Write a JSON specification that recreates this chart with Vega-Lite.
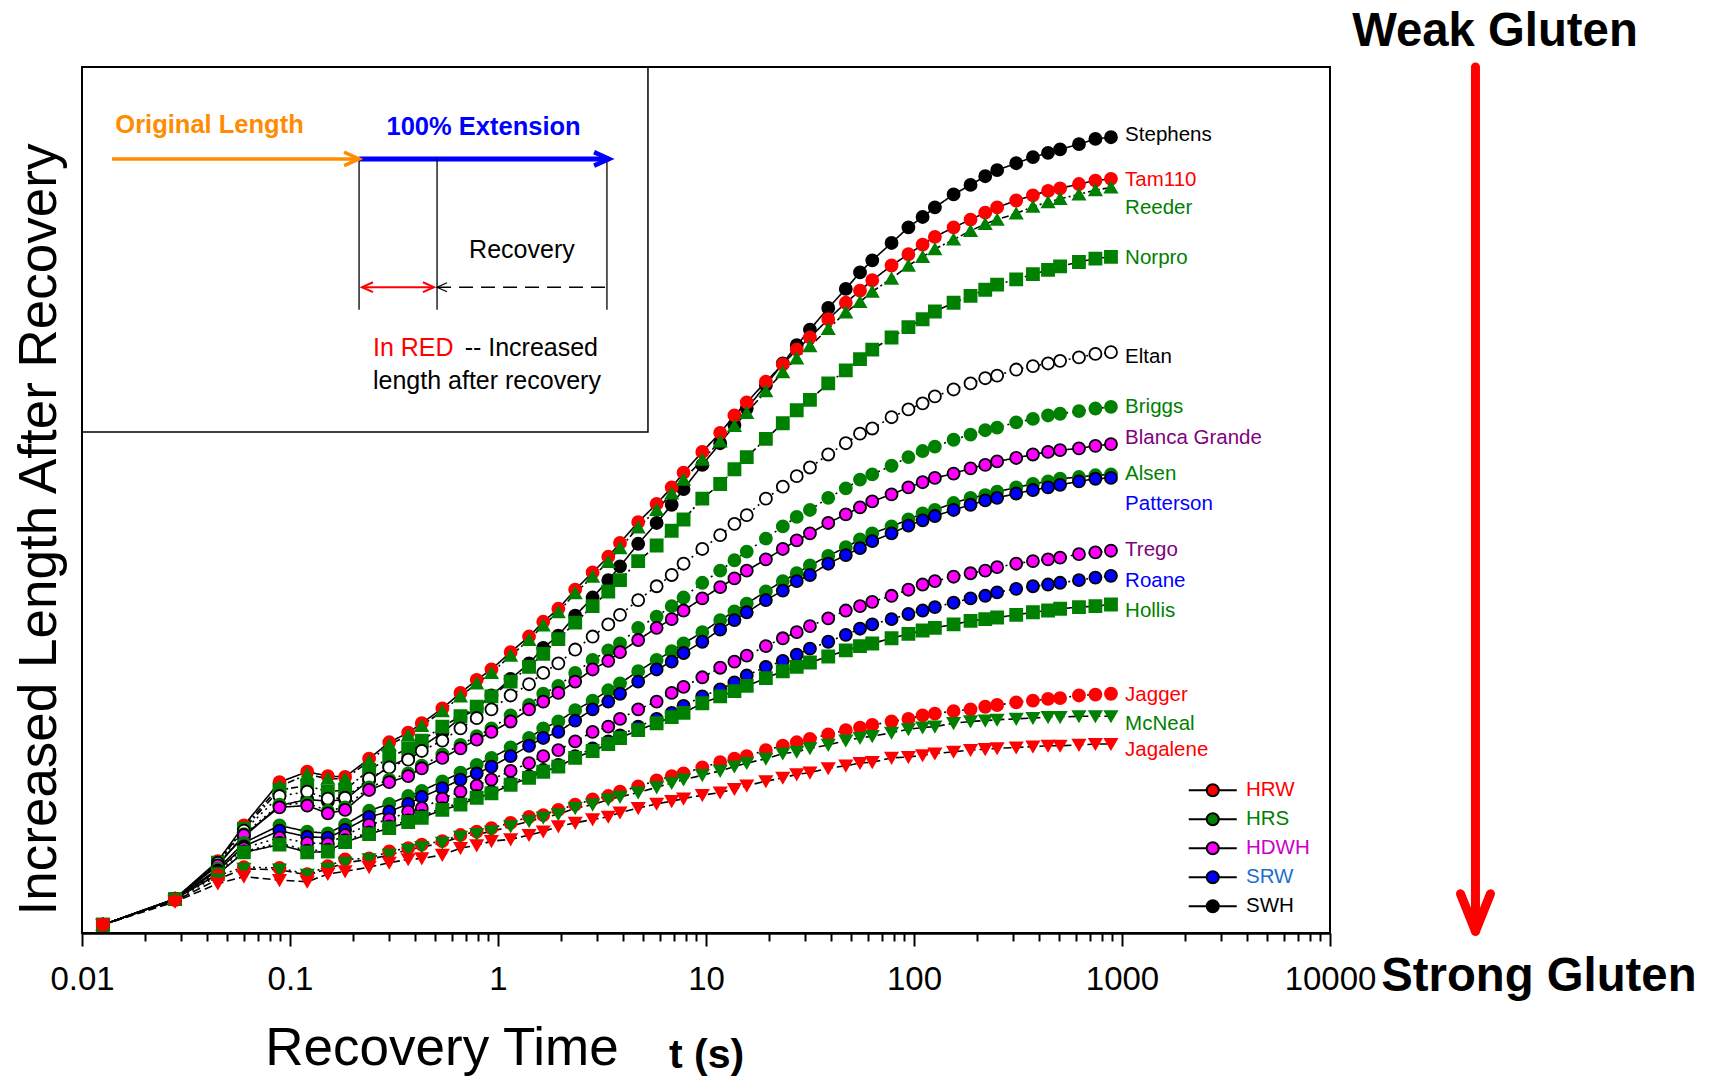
{
  "$schema": "https://vega.github.io/schema/vega-lite/v6.json",
  "width": 1248,
  "height": 866,
  "autosize": {"type": "none"},
  "padding": {"left": 82, "top": 67, "right": 390, "bottom": 144},
  "background": "white",
  "config": {
    "font": "Liberation Sans",
    "view": {"stroke": "black", "strokeWidth": 2}
  },
  "datasets": {
    "series": [
      {"c": "Stephens", "cls": "SWH", "t": [0.0126,0.028,0.045,0.06,0.089,0.121,0.152,0.184,0.24,0.3,0.37,0.43,0.54,0.66,0.79,0.93,1.15,1.41,1.65,1.95,2.35,2.85,3.39,3.86,4.72,5.79,6.84,7.8,9.6,11.7,13.7,15.7,19.4,23.4,27.3,31.6,38.7,47,55,63,78,94,110,126,155,187,220,251,310,373,441,504,621,745,885],
       "v": [1.15,4.15,8.2,11.3,14.9,15.6,15.4,15.6,17.8,19.4,20.4,21.7,23.3,25.0,26.1,27.6,29.5,31.3,33.1,34.5,36.8,38.9,40.9,42.5,45.1,47.5,49.6,51.4,54.2,56.7,58.8,60.7,63.4,65.9,68.0,69.8,72.3,74.5,76.4,77.8,79.8,81.6,82.8,83.9,85.4,86.5,87.5,88.2,89.0,89.7,90.2,90.6,91.2,91.8,92.0]},
      {"c": "Tam110", "cls": "HRW", "t": [0.0126,0.028,0.045,0.06,0.089,0.121,0.152,0.184,0.24,0.3,0.37,0.43,0.54,0.66,0.79,0.93,1.15,1.41,1.65,1.95,2.35,2.85,3.39,3.86,4.72,5.79,6.84,7.8,9.6,11.7,13.7,15.7,19.4,23.4,27.3,31.6,38.7,47,55,63,78,94,110,126,155,187,220,251,310,373,441,504,621,745,885],
       "v": [1.15,4.15,8.5,12.6,17.6,18.8,18.3,18.2,20.3,22.2,23.3,24.4,26.1,27.9,29.4,30.6,32.6,34.4,36.1,37.6,39.8,41.8,43.6,45.2,47.6,49.7,51.6,53.3,55.7,57.9,59.9,61.4,63.8,65.8,67.5,68.9,71.0,72.9,74.3,75.5,77.2,78.5,79.6,80.5,81.6,82.5,83.3,83.9,84.7,85.3,85.8,86.1,86.6,87.0,87.2]},
      {"c": "Reeder", "cls": "HRS", "t": [0.0126,0.028,0.045,0.06,0.089,0.121,0.152,0.184,0.24,0.3,0.37,0.43,0.54,0.66,0.79,0.93,1.15,1.41,1.65,1.95,2.35,2.85,3.39,3.86,4.72,5.79,6.84,7.8,9.6,11.7,13.7,15.7,19.4,23.4,27.3,31.6,38.7,47,55,63,78,94,110,126,155,187,220,251,310,373,441,504,621,745,885],
       "v": [1.15,4.1,8.4,12.4,17.1,18.5,18.0,18.0,20.0,21.9,23.0,24.1,25.8,27.5,29.0,30.2,32.2,34.0,35.7,37.2,39.4,41.3,43.0,44.6,47.0,49.0,50.9,52.5,54.8,56.9,58.7,60.2,62.7,64.9,66.5,67.9,69.9,71.8,73.0,74.2,75.7,77.2,78.2,79.1,80.2,81.2,82.0,82.5,83.2,84.0,84.5,84.9,85.4,85.9,86.2]},
      {"c": "Norpro", "cls": "HRS", "t": [0.0126,0.028,0.045,0.06,0.089,0.121,0.152,0.184,0.24,0.3,0.37,0.43,0.54,0.66,0.79,0.93,1.15,1.41,1.65,1.95,2.35,2.85,3.39,3.86,4.72,5.79,6.84,7.8,9.6,11.7,13.7,15.7,19.4,23.4,27.3,31.6,38.7,47,55,63,78,94,110,126,155,187,220,251,310,373,441,504,621,745,885],
       "v": [1.15,4.1,8.3,12.2,16.7,17.2,16.5,16.7,19.0,20.4,21.5,22.4,24.0,25.2,26.3,27.5,29.2,30.9,32.4,34.1,36.0,37.9,39.6,40.9,43.1,44.9,46.6,47.9,50.3,52.0,53.7,55.1,57.2,59.0,60.5,61.7,63.6,65.1,66.4,67.5,68.9,70.1,71.0,71.9,72.9,73.7,74.4,75.0,75.6,76.2,76.7,77.1,77.6,78.0,78.2]},
      {"c": "Eltan", "cls": "SWH", "t": [0.0126,0.028,0.045,0.06,0.089,0.121,0.152,0.184,0.24,0.3,0.37,0.43,0.54,0.66,0.79,0.93,1.15,1.41,1.65,1.95,2.35,2.85,3.39,3.86,4.72,5.79,6.84,7.8,9.6,11.7,13.7,15.7,19.4,23.4,27.3,31.6,38.7,47,55,63,78,94,110,126,155,187,220,251,310,373,441,504,621,745,885],
       "v": [1.15,4.15,8.3,12.0,16.0,16.5,15.7,15.8,18.0,19.3,20.2,21.2,22.4,23.8,25.0,26.0,27.6,28.9,30.2,31.3,32.9,34.4,35.8,36.9,38.6,40.2,41.5,42.8,44.5,46.1,47.4,48.4,50.3,51.7,52.9,53.9,55.4,56.7,57.8,58.4,59.7,60.6,61.3,62.1,62.9,63.6,64.2,64.5,65.2,65.6,65.9,66.2,66.6,67.0,67.2]},
      {"c": "Briggs", "cls": "HRS", "t": [0.0126,0.028,0.045,0.06,0.089,0.121,0.152,0.184,0.24,0.3,0.37,0.43,0.54,0.66,0.79,0.93,1.15,1.41,1.65,1.95,2.35,2.85,3.39,3.86,4.72,5.79,6.84,7.8,9.6,11.7,13.7,15.7,19.4,23.4,27.3,31.6,38.7,47,55,63,78,94,110,126,155,187,220,251,310,373,441,504,621,745,885],
       "v": [1.15,4.1,8.0,11.6,15.0,15.2,14.3,14.7,17.0,17.9,18.6,19.5,20.8,21.9,22.9,23.8,25.3,26.5,27.8,28.7,30.2,31.7,32.8,33.6,35.4,36.7,37.9,38.9,40.6,42.0,43.2,44.2,45.7,47.1,48.2,49.0,50.4,51.5,52.5,53.1,54.1,55.1,55.8,56.3,57.1,57.7,58.2,58.5,59.1,59.5,59.9,60.1,60.4,60.7,60.9]},
      {"c": "Blanca Grande", "cls": "HDWH", "t": [0.0126,0.028,0.045,0.06,0.089,0.121,0.152,0.184,0.24,0.3,0.37,0.43,0.54,0.66,0.79,0.93,1.15,1.41,1.65,1.95,2.35,2.85,3.39,3.86,4.72,5.79,6.84,7.8,9.6,11.7,13.7,15.7,19.4,23.4,27.3,31.6,38.7,47,55,63,78,94,110,126,155,187,220,251,310,373,441,504,621,745,885],
       "v": [1.15,4.1,8.0,11.5,14.7,14.9,14.0,14.4,16.7,17.6,18.3,19.2,20.4,21.5,22.5,23.4,24.6,26.0,26.9,27.9,29.2,30.6,31.6,32.6,34.0,35.4,36.4,37.4,38.8,40.1,41.1,42.0,43.3,44.5,45.5,46.3,47.5,48.5,49.3,50.0,50.8,51.6,52.2,52.7,53.2,53.8,54.2,54.6,55.0,55.4,55.7,55.9,56.1,56.4,56.6]},
      {"c": "Alsen", "cls": "HRS", "t": [0.0126,0.028,0.045,0.06,0.089,0.121,0.152,0.184,0.24,0.3,0.37,0.43,0.54,0.66,0.79,0.93,1.15,1.41,1.65,1.95,2.35,2.85,3.39,3.86,4.72,5.79,6.84,7.8,9.6,11.7,13.7,15.7,19.4,23.4,27.3,31.6,38.7,47,55,63,78,94,110,126,155,187,220,251,310,373,441,504,621,745,885],
       "v": [1.15,4.1,7.6,10.6,12.6,11.9,11.7,12.7,14.3,15.1,16.0,16.6,17.7,18.7,19.6,20.4,21.6,22.7,23.8,24.6,25.9,27.0,28.2,29.0,30.4,31.7,32.7,33.6,34.9,36.3,37.3,38.2,39.6,40.8,41.7,42.6,43.7,44.7,45.6,46.3,47.1,47.9,48.6,49.0,49.8,50.4,50.7,51.1,51.6,52.0,52.3,52.6,52.8,53.0,53.1]},
      {"c": "Patterson", "cls": "SRW", "t": [0.0126,0.028,0.045,0.06,0.089,0.121,0.152,0.184,0.24,0.3,0.37,0.43,0.54,0.66,0.79,0.93,1.15,1.41,1.65,1.95,2.35,2.85,3.39,3.86,4.72,5.79,6.84,7.8,9.6,11.7,13.7,15.7,19.4,23.4,27.3,31.6,38.7,47,55,63,78,94,110,126,155,187,220,251,310,373,441,504,621,745,885],
       "v": [1.15,4.1,7.4,10.2,12.0,11.3,11.2,12.1,13.6,14.2,15.1,15.9,16.9,17.9,18.6,19.4,20.6,21.8,22.7,23.4,24.7,26.0,26.9,27.8,29.2,30.6,31.5,32.5,33.8,35.2,36.3,37.2,38.6,39.7,40.8,41.5,42.8,43.8,44.6,45.4,46.3,47.2,47.8,48.3,49.0,49.6,50.1,50.4,50.9,51.3,51.6,51.9,52.3,52.6,52.7]},
      {"c": "Trego", "cls": "HDWH", "t": [0.0126,0.028,0.045,0.06,0.089,0.121,0.152,0.184,0.24,0.3,0.37,0.43,0.54,0.66,0.79,0.93,1.15,1.41,1.65,1.95,2.35,2.85,3.39,3.86,4.72,5.79,6.84,7.8,9.6,11.7,13.7,15.7,19.4,23.4,27.3,31.6,38.7,47,55,63,78,94,110,126,155,187,220,251,310,373,441,504,621,745,885],
       "v": [1.15,4.1,7.3,10.0,11.2,10.6,10.5,11.5,12.7,13.3,14.2,14.6,15.7,16.5,17.2,17.9,18.9,19.8,20.6,21.3,22.3,23.4,24.0,24.9,26.0,26.9,27.9,28.6,29.7,30.8,31.5,32.2,33.3,34.2,34.9,35.6,36.5,37.4,37.9,38.4,39.1,39.8,40.4,40.8,41.3,41.7,42.0,42.4,42.8,43.1,43.3,43.5,43.9,44.1,44.3]},
      {"c": "Roane", "cls": "SRW", "t": [0.0126,0.028,0.045,0.06,0.089,0.121,0.152,0.184,0.24,0.3,0.37,0.43,0.54,0.66,0.79,0.93,1.15,1.41,1.65,1.95,2.35,2.85,3.39,3.86,4.72,5.79,6.84,7.8,9.6,11.7,13.7,15.7,19.4,23.4,27.3,31.6,38.7,47,55,63,78,94,110,126,155,187,220,251,310,373,441,504,621,745,885],
       "v": [1.15,4.1,7.1,9.6,10.6,9.7,9.8,10.9,11.8,12.5,13.2,13.7,14.6,15.2,16.0,16.5,17.5,18.3,19.0,19.6,20.6,21.5,22.3,23.0,24.0,24.9,25.6,26.4,27.5,28.3,29.1,29.9,30.9,31.6,32.3,33.0,33.8,34.6,35.3,35.8,36.4,37.0,37.4,37.8,38.3,38.8,39.1,39.5,39.9,40.2,40.4,40.6,40.9,41.2,41.4]},
      {"c": "Hollis", "cls": "HRS", "t": [0.0126,0.028,0.045,0.06,0.089,0.121,0.152,0.184,0.24,0.3,0.37,0.43,0.54,0.66,0.79,0.93,1.15,1.41,1.65,1.95,2.35,2.85,3.39,3.86,4.72,5.79,6.84,7.8,9.6,11.7,13.7,15.7,19.4,23.4,27.3,31.6,38.7,47,55,63,78,94,110,126,155,187,220,251,310,373,441,504,621,745,885],
       "v": [1.15,4.1,7.0,9.5,10.4,9.5,9.6,10.7,11.6,12.3,13.0,13.5,14.4,15.0,15.8,16.3,17.3,18.1,18.8,19.4,20.4,21.2,22.0,22.7,23.6,24.4,25.1,25.6,26.7,27.5,28.1,28.7,29.6,30.4,30.9,31.4,32.1,32.8,33.3,33.6,34.2,34.7,35.1,35.4,35.8,36.2,36.4,36.6,36.9,37.2,37.4,37.6,37.8,37.9,38.1]},
      {"c": "Jagger", "cls": "HRW", "t": [0.0126,0.028,0.045,0.06,0.089,0.121,0.152,0.184,0.24,0.3,0.37,0.43,0.54,0.66,0.79,0.93,1.15,1.41,1.65,1.95,2.35,2.85,3.39,3.86,4.72,5.79,6.84,7.8,9.6,11.7,13.7,15.7,19.4,23.4,27.3,31.6,38.7,47,55,63,78,94,110,126,155,187,220,251,310,373,441,504,621,745,885],
       "v": [1.15,4.0,6.8,7.8,7.7,7.0,7.9,8.7,8.8,9.6,10.0,10.4,10.8,11.5,11.9,12.3,12.9,13.6,13.8,14.4,15.0,15.6,16.0,16.5,17.1,17.8,18.3,18.6,19.3,19.9,20.3,20.6,21.3,21.8,22.2,22.6,23.1,23.6,23.9,24.2,24.6,24.9,25.3,25.5,25.8,26.0,26.3,26.5,26.8,27.0,27.2,27.3,27.6,27.7,27.8]},
      {"c": "McNeal", "cls": "HRS", "t": [0.0126,0.028,0.045,0.06,0.089,0.121,0.152,0.184,0.24,0.3,0.37,0.43,0.54,0.66,0.79,0.93,1.15,1.41,1.65,1.95,2.35,2.85,3.39,3.86,4.72,5.79,6.84,7.8,9.6,11.7,13.7,15.7,19.4,23.4,27.3,31.6,38.7,47,55,63,78,94,110,126,155,187,220,251,310,373,441,504,621,745,885],
       "v": [1.15,3.9,6.4,7.6,7.5,6.9,7.6,8.3,8.7,9.2,9.8,10.1,10.6,11.3,11.6,11.9,12.5,13.1,13.5,13.9,14.6,15.0,15.6,15.9,16.4,17.0,17.5,17.9,18.4,18.9,19.4,19.8,20.3,20.9,21.1,21.5,21.9,22.4,22.7,22.9,23.3,23.7,23.9,24.0,24.4,24.6,24.7,24.8,24.9,25.0,25.1,25.1,25.2,25.2,25.2]},
      {"c": "Jagalene", "cls": "HRW", "t": [0.0126,0.028,0.045,0.06,0.089,0.121,0.152,0.184,0.24,0.3,0.37,0.43,0.54,0.66,0.79,0.93,1.15,1.41,1.65,1.95,2.35,2.85,3.39,3.86,4.72,5.79,6.84,7.8,9.6,11.7,13.7,15.7,19.4,23.4,27.3,31.6,38.7,47,55,63,78,94,110,126,155,187,220,251,310,373,441,504,621,745,885],
       "v": [1.15,3.8,5.9,6.7,6.3,6.1,7.0,7.3,7.8,8.3,8.7,8.8,9.2,10.0,10.3,10.8,11.0,11.5,11.9,12.5,12.9,13.3,13.6,14.1,14.6,15.1,15.4,15.7,16.1,16.4,16.8,17.2,17.7,18.1,18.5,18.7,19.2,19.5,19.8,19.9,20.4,20.5,20.7,20.9,21.1,21.3,21.4,21.5,21.6,21.7,21.8,21.8,21.9,22.0,22.0]}
    ],
    "labels": [
      {"c": "Stephens", "lv": 92.3}, {"c": "Tam110", "lv": 87.1}, {"c": "Reeder", "lv": 83.8},
      {"c": "Norpro", "lv": 78.1}, {"c": "Eltan", "lv": 66.6}, {"c": "Briggs", "lv": 60.9},
      {"c": "Blanca Grande", "lv": 57.3}, {"c": "Alsen", "lv": 53.2}, {"c": "Patterson", "lv": 49.7},
      {"c": "Trego", "lv": 44.4}, {"c": "Roane", "lv": 40.8}, {"c": "Hollis", "lv": 37.3},
      {"c": "Jagger", "lv": 27.6}, {"c": "McNeal", "lv": 24.3}, {"c": "Jagalene", "lv": 21.3}
    ],
    "classes": [{"cls": "HRW"}, {"cls": "HRS"}, {"cls": "HDWH"}, {"cls": "SRW"}, {"cls": "SWH"}],
    "one": [{}]
  },
  "layer": [
    {
      "data": {"name": "series"},
      "transform": [{"flatten": ["t", "v"]}],
      "mark": {"type": "line", "color": "black", "strokeWidth": 1.6},
      "encoding": {
        "x": {"field": "t", "type": "quantitative",
          "scale": {"type": "log", "domain": [0.01, 10000], "nice": false},
          "axis": {
            "title": "Recovery Time",
            "values": [0.01,0.02,0.03,0.04,0.05,0.06,0.07,0.08,0.09,0.1,0.2,0.3,0.4,0.5,0.6,0.7,0.8,0.9,1,2,3,4,5,6,7,8,9,10,20,30,40,50,60,70,80,90,100,200,300,400,500,600,700,800,900,1000,2000,3000,4000,5000,6000,7000,8000,9000,10000],
            "format": "~g",
            "labelExpr": "indexof([0.01,0.1,1,10,100,1000,10000], datum.value) >= 0 ? datum.label : ''",
            "labelFontSize": 33, "labelColor": "black", "labelBaseline": "alphabetic",
            "labelPadding": 43, "labelOverlap": false, "labelFlush": false, "labelBound": false,
            "tickSize": {"condition": {"test": "indexof([0.01,0.1,1,10,100,1000,10000], datum.value) >= 0", "value": 13}, "value": 8},
            "tickColor": "black", "tickWidth": 2,
            "domainColor": "black", "domainWidth": 2.5, "grid": false,
            "titleFontSize": 53, "titleFontWeight": "normal", "titleColor": "black",
            "titleX": 359.5, "titleY": 131, "titleAlign": "center", "titleBaseline": "alphabetic"
          }},
        "y": {"field": "v", "type": "quantitative",
          "scale": {"domain": [0.2, 100.1], "nice": false, "zero": false},
          "axis": {
            "title": "Increased Length After Recovery",
            "ticks": false, "labels": false, "domain": false, "grid": false,
            "titleFontSize": 53, "titleFontWeight": "normal", "titleColor": "black",
            "titleAngle": -90, "titleX": -27, "titleY": 462, "titleAlign": "center", "titleBaseline": "alphabetic"
          }},
        "detail": {"field": "c", "type": "nominal"},
        "strokeDash": {"field": "c", "type": "nominal", "legend": null,
          "scale": {"domain": ["Stephens","Tam110","Reeder","Norpro","Eltan","Briggs","Blanca Grande","Alsen","Patterson","Trego","Roane","Hollis","Jagger","McNeal","Jagalene"],
            "range": [[1,0],[1,0],[7,3,2,3],[7,3,2,3],[2,4],[2,4],[1,0],[1,0],[1,0],[2,4],[2,4],[1,0],[2,4],[8,4],[8,4]]}}
      }
    },
    {
      "data": {"name": "series"},
      "transform": [{"flatten": ["t", "v"]}],
      "mark": {"type": "point", "filled": true, "opacity": 1, "strokeWidth": 1.8, "size": 145},
      "encoding": {
        "x": {"field": "t", "type": "quantitative"},
        "y": {"field": "v", "type": "quantitative"},
        "shape": {"field": "c", "type": "nominal", "legend": null,
          "scale": {"domain": ["Stephens","Tam110","Reeder","Norpro","Eltan","Briggs","Blanca Grande","Alsen","Patterson","Trego","Roane","Hollis","Jagger","McNeal","Jagalene"],
            "range": ["circle","circle","triangle-up","square","circle","circle","circle","circle","circle","circle","circle","square","circle","triangle-down","triangle-down"]}},
        "fill": {"field": "c", "type": "nominal", "legend": null,
          "scale": {"domain": ["Stephens","Tam110","Reeder","Norpro","Eltan","Briggs","Blanca Grande","Alsen","Patterson","Trego","Roane","Hollis","Jagger","McNeal","Jagalene"],
            "range": ["#000000","#FF0000","#008000","#008000","#FFFFFF","#008000","#FF00FF","#008000","#0000FF","#FF00FF","#0000FF","#008000","#FF0000","#008000","#FF0000"]}},
        "stroke": {"field": "c", "type": "nominal", "legend": null,
          "scale": {"domain": ["Stephens","Tam110","Reeder","Norpro","Eltan","Briggs","Blanca Grande","Alsen","Patterson","Trego","Roane","Hollis","Jagger","McNeal","Jagalene"],
            "range": ["#000000","#FF0000","#008000","#008000","#000000","#008000","#000000","#008000","#000000","#000000","#000000","#008000","#FF0000","#008000","#FF0000"]}}
      }
    },
    {
      "data": {"name": "labels"},
      "mark": {"type": "text", "align": "left", "baseline": "middle", "fontSize": 20.5},
      "encoding": {
        "x": {"datum": 1035, "type": "quantitative"},
        "y": {"field": "lv", "type": "quantitative"},
        "text": {"field": "c"},
        "fill": {"field": "c", "type": "nominal", "legend": null,
          "scale": {"domain": ["Stephens","Tam110","Reeder","Norpro","Eltan","Briggs","Blanca Grande","Alsen","Patterson","Trego","Roane","Hollis","Jagger","McNeal","Jagalene"],
            "range": ["#000000","#FF0000","#008000","#008000","#000000","#008000","#800080","#008000","#0000FF","#800080","#0000FF","#008000","#FF0000","#008000","#FF0000"]}}
      }
    },
    {
      "data": {"name": "classes"},
      "mark": {"type": "point", "filled": true, "opacity": 0},
      "encoding": {
        "x": {"datum": 1, "type": "quantitative"},
        "y": {"datum": 50, "type": "quantitative"},
        "fill": {"field": "cls", "type": "nominal",
          "scale": {"domain": ["HRW","HRS","HDWH","SRW","SWH"], "range": ["#FF0000","#008000","#FF00FF","#0000FF","#000000"]},
          "legend": {
            "orient": "none", "legendX": 1120.5, "legendY": 713, "title": null,
            "symbolType": "M-4,0H-1M1,0H4M1,0A1,1,0,1,1,-1,0A1,1,0,1,1,1,0",
            "symbolSize": 144, "symbolStrokeColor": "black", "symbolStrokeWidth": 2, "symbolOpacity": 1,
            "labelFontSize": 20.5, "labelOffset": 23, "rowPadding": 8, "padding": 0, "labelLimit": 0,
            "encode": {"labels": {"update": {"fill": {"signal": "datum.value === 'HRW' ? '#FF0000' : datum.value === 'HRS' ? '#008000' : datum.value === 'HDWH' ? '#CC00CC' : datum.value === 'SRW' ? '#1E6FD0' : '#000000'"}}}}
          }}
      }
    },
    {
      "data": {"name": "one"},
      "mark": {"type": "rect", "fillOpacity": 0, "stroke": "black", "strokeWidth": 1.5},
      "encoding": {"x": {"datum": 0.01, "type": "quantitative"}, "x2": {"datum": 5.26}, "y": {"datum": 58.0, "type": "quantitative"}, "y2": {"datum": 100.1}}
    },
    {
      "data": {"name": "one"},
      "mark": {"type": "rule", "color": "#FF8C00", "strokeWidth": 3.5},
      "encoding": {"x": {"datum": 0.01394, "type": "quantitative"}, "x2": {"datum": 0.2148}, "y": {"datum": 89.5, "type": "quantitative"}}
    },
    {
      "data": {"name": "one"},
      "mark": {"type": "rule", "color": "#0000FF", "strokeWidth": 5},
      "encoding": {"x": {"datum": 0.2148, "type": "quantitative"}, "x2": {"datum": 3.42}, "y": {"datum": 89.5, "type": "quantitative"}}
    },
    {
      "data": {"name": "one"},
      "mark": {"type": "rule", "color": "black", "strokeWidth": 1.3},
      "encoding": {"x": {"datum": 0.2148, "type": "quantitative"}, "y": {"datum": 72.1, "type": "quantitative"}, "y2": {"datum": 89.5}}
    },
    {
      "data": {"name": "one"},
      "mark": {"type": "rule", "color": "black", "strokeWidth": 1.3},
      "encoding": {"x": {"datum": 0.5093, "type": "quantitative"}, "y": {"datum": 72.1, "type": "quantitative"}, "y2": {"datum": 89.5}}
    },
    {
      "data": {"name": "one"},
      "mark": {"type": "rule", "color": "black", "strokeWidth": 1.3},
      "encoding": {"x": {"datum": 3.34, "type": "quantitative"}, "y": {"datum": 72.1, "type": "quantitative"}, "y2": {"datum": 89.5}}
    },
    {
      "data": {"name": "one"},
      "mark": {"type": "rule", "color": "#FF0000", "strokeWidth": 2},
      "encoding": {"x": {"datum": 0.2219, "type": "quantitative"}, "x2": {"datum": 0.4921}, "y": {"datum": 74.7, "type": "quantitative"}}
    },
    {
      "data": {"name": "one"},
      "mark": {"type": "rule", "color": "black", "strokeWidth": 1.5, "strokeDash": [14, 8]},
      "encoding": {"x": {"datum": 0.5093, "type": "quantitative"}, "x2": {"datum": 3.34}, "y": {"datum": 74.7, "type": "quantitative"}}
    },
    {
      "data": {"name": "one"},
      "mark": {"type": "point", "shape": "M-1,-0.45L0,0L-1,0.45", "size": 900, "filled": false, "stroke": "#FF8C00", "strokeWidth": 3.5, "opacity": 1},
      "encoding": {"x": {"datum": 0.2148, "type": "quantitative"}, "y": {"datum": 89.5, "type": "quantitative"}}
    },
    {
      "data": {"name": "one"},
      "mark": {"type": "point", "shape": "M-1,-0.45L0,0L-1,0.45", "size": 900, "filled": false, "stroke": "#0000FF", "strokeWidth": 4.5, "opacity": 1},
      "encoding": {"x": {"datum": 3.42, "type": "quantitative"}, "y": {"datum": 89.5, "type": "quantitative"}}
    },
    {
      "data": {"name": "one"},
      "mark": {"type": "point", "shape": "M1,-0.45L0,0L1,0.45", "size": 484, "filled": false, "stroke": "#FF0000", "strokeWidth": 2, "opacity": 1},
      "encoding": {"x": {"datum": 0.2219, "type": "quantitative"}, "y": {"datum": 74.7, "type": "quantitative"}}
    },
    {
      "data": {"name": "one"},
      "mark": {"type": "point", "shape": "M-1,-0.45L0,0L-1,0.45", "size": 484, "filled": false, "stroke": "#FF0000", "strokeWidth": 2, "opacity": 1},
      "encoding": {"x": {"datum": 0.4921, "type": "quantitative"}, "y": {"datum": 74.7, "type": "quantitative"}}
    },
    {
      "data": {"name": "one"},
      "mark": {"type": "point", "shape": "M1,-0.45L0,0L1,0.45", "size": 400, "filled": false, "stroke": "black", "strokeWidth": 1.2, "opacity": 1},
      "encoding": {"x": {"datum": 0.5093, "type": "quantitative"}, "y": {"datum": 74.7, "type": "quantitative"}}
    },
    {
      "data": {"name": "one"},
      "mark": {"type": "text", "text": "Original Length", "fontSize": 25.5, "fontWeight": "bold", "color": "#FF8C00", "align": "center", "baseline": "alphabetic"},
      "encoding": {"x": {"datum": 0.04102, "type": "quantitative"}, "y": {"datum": 92.5, "type": "quantitative"}}
    },
    {
      "data": {"name": "one"},
      "mark": {"type": "text", "text": "100% Extension", "fontSize": 25.5, "fontWeight": "bold", "color": "#0000FF", "align": "center", "baseline": "alphabetic"},
      "encoding": {"x": {"datum": 0.8524, "type": "quantitative"}, "y": {"datum": 92.3, "type": "quantitative"}}
    },
    {
      "data": {"name": "one"},
      "mark": {"type": "text", "text": "Recovery", "fontSize": 25, "color": "black", "align": "center", "baseline": "alphabetic"},
      "encoding": {"x": {"datum": 1.303, "type": "quantitative"}, "y": {"datum": 78.1, "type": "quantitative"}}
    },
    {
      "data": {"name": "one"},
      "mark": {"type": "text", "text": "In RED", "fontSize": 25, "color": "#FF0000", "align": "left", "baseline": "alphabetic"},
      "encoding": {"x": {"datum": 0.2506, "type": "quantitative"}, "y": {"datum": 66.8, "type": "quantitative"}}
    },
    {
      "data": {"name": "one"},
      "mark": {"type": "text", "text": "-- Increased", "fontSize": 25, "color": "black", "align": "right", "baseline": "alphabetic"},
      "encoding": {"x": {"datum": 3.026, "type": "quantitative"}, "y": {"datum": 66.8, "type": "quantitative"}}
    },
    {
      "data": {"name": "one"},
      "mark": {"type": "text", "text": "length after recovery", "fontSize": 25, "color": "black", "align": "left", "baseline": "alphabetic"},
      "encoding": {"x": {"datum": 0.2506, "type": "quantitative"}, "y": {"datum": 62.9, "type": "quantitative"}}
    },
    {
      "data": {"name": "one"},
      "mark": {"type": "text", "text": "t (s)", "fontSize": 41, "fontWeight": "bold", "color": "black", "align": "left", "baseline": "alphabetic"},
      "encoding": {"x": {"datum": 6.64, "type": "quantitative"}, "y": {"datum": -15.4, "type": "quantitative"}}
    },
    {
      "data": {"name": "one"},
      "mark": {"type": "rule", "color": "#FF0000", "strokeWidth": 9, "strokeCap": "round"},
      "encoding": {"x": {"datum": 50050, "type": "quantitative"}, "y": {"datum": 0.4, "type": "quantitative"}, "y2": {"datum": 100.1}}
    },
    {
      "data": {"name": "one"},
      "mark": {"type": "point", "shape": "M-1,-2.5L0,0L1,-2.5", "size": 900, "filled": false, "stroke": "#FF0000", "strokeWidth": 9, "strokeCap": "round", "strokeJoin": "round", "opacity": 1},
      "encoding": {"x": {"datum": 50050, "type": "quantitative"}, "y": {"datum": 0.4, "type": "quantitative"}}
    },
    {
      "data": {"name": "one"},
      "mark": {"type": "text", "text": "Weak Gluten", "fontSize": 47.3, "fontWeight": "bold", "color": "black", "align": "center", "baseline": "alphabetic"},
      "encoding": {"x": {"datum": 62100, "type": "quantitative"}, "y": {"datum": 102.5, "type": "quantitative"}}
    },
    {
      "data": {"name": "one"},
      "mark": {"type": "text", "text": "Strong Gluten", "fontSize": 47.3, "fontWeight": "bold", "color": "black", "align": "center", "baseline": "alphabetic"},
      "encoding": {"x": {"datum": 101000, "type": "quantitative"}, "y": {"datum": -6.5, "type": "quantitative"}}
    }
  ],
  "resolve": {"scale": {"fill": "independent", "stroke": "independent", "shape": "independent", "strokeDash": "independent"}}
}
